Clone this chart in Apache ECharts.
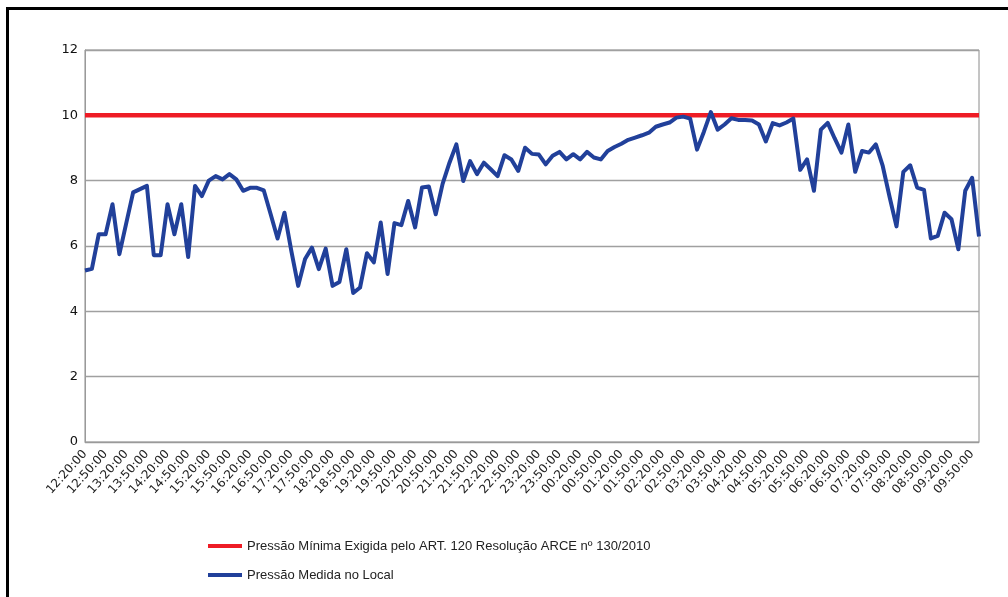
<!DOCTYPE html>
<html>
<head>
<meta charset="utf-8">
<script src="https://cdn.jsdelivr.net/npm/echarts@6/dist/echarts.min.js"></script>
<style>
html,body{margin:0;padding:0;background:#fff;}
#chart{width:1008px;height:597px;}
</style>
</head>
<body>
<div id="chart"></div>
<script>
// Time categories: every 10 minutes from 12:20:00 to 10:00:00
const startHour = 12, startMinute = 20, stepMinutes = 10, pointCount = 131;
const categories = [];
for (let k = 0; k < pointCount; k++) {
  const t = (startHour * 60 + startMinute + k * stepMinutes) % (24 * 60);
  const h = String(Math.floor(t / 60)).padStart(2, '0');
  const m = String(t % 60).padStart(2, '0');
  categories.push(h + ':' + m + ':00');
}

const minimumPressureValue = 10;

const measuredPressure = [
  5.25, 5.30, 6.36, 6.36, 7.28, 5.75, 6.70, 7.64, 7.74, 7.84,
  5.72, 5.72, 7.28, 6.36, 7.28, 5.66, 7.84, 7.53, 8.00, 8.14,
  8.04, 8.20, 8.04, 7.69, 7.78, 7.78, 7.70, 6.97, 6.23, 7.02,
  5.85, 4.78, 5.60, 5.95, 5.29, 5.92, 4.78, 4.90, 5.90, 4.56,
  4.73, 5.78, 5.50, 6.72, 5.14, 6.70, 6.64, 7.38, 6.57, 7.79,
  7.82, 6.97, 7.90, 8.55, 9.11, 7.99, 8.60, 8.20, 8.55, 8.35,
  8.14, 8.78, 8.65, 8.30, 9.01, 8.82, 8.80, 8.50, 8.76, 8.88,
  8.65, 8.81, 8.65, 8.88, 8.71, 8.65, 8.91, 9.03, 9.13, 9.25,
  9.32, 9.39, 9.47, 9.65, 9.72, 9.78, 9.93, 9.96, 9.90, 8.95,
  9.50, 10.10, 9.56, 9.72, 9.91, 9.86, 9.86, 9.84, 9.72, 9.20,
  9.76, 9.69, 9.78, 9.90, 8.33, 8.65, 7.69, 9.56, 9.77, 9.30,
  8.86, 9.72, 8.27, 8.91, 8.86, 9.11, 8.45, 7.50, 6.60, 8.27,
  8.47, 7.79, 7.72, 6.23, 6.31, 7.02, 6.82, 5.90, 7.69, 8.09,
  6.29
];

const minimumPressure = categories.map(() => minimumPressureValue);

const seriesNames = [
  'Pressão Mínima Exigida pelo ART. 120 Resolução ARCE nº 130/2010',
  'Pressão Medida no Local'
];

const chart = echarts.init(document.getElementById('chart'), null, {renderer: 'canvas'});
chart.setOption({
  animation: false,
  backgroundColor: '#ffffff',
  graphic: [{
    type: 'rect',
    shape: {x: 7.5, y: 8.5, width: 1010, height: 600},
    style: {fill: 'none', stroke: '#000', lineWidth: 3},
    silent: true
  }],
  grid: {
    left: 85, top: 50, width: 894, height: 392,
    show: true, borderColor: '#8a8a8a', borderWidth: 1, backgroundColor: 'transparent'
  },
  legend: {
    orient: 'vertical',
    left: 203, top: 533,
    itemWidth: 34, itemHeight: 4, itemGap: 13,
    icon: 'rect',
    data: seriesNames,
    textStyle: {fontFamily: 'Liberation Sans', fontSize: 13, color: '#222', lineHeight: 16}
  },
  xAxis: {
    type: 'category',
    data: categories,
    boundaryGap: false,
    axisLine: {show: true, lineStyle: {color: '#9a9a9a', width: 1}},
    axisTick: {show: false},
    axisLabel: {
      interval: 2,
      rotate: 48,
      margin: 10,
      fontFamily: 'DejaVu Sans',
      fontSize: 12,
      color: '#222'
    },
    splitLine: {show: false}
  },
  yAxis: {
    type: 'value',
    min: 0, max: 12, interval: 2,
    axisLine: {show: true, lineStyle: {color: '#9a9a9a', width: 1}},
    axisTick: {show: false},
    axisLabel: {fontFamily: 'DejaVu Sans', fontSize: 13, color: '#111', margin: 7},
    splitLine: {show: true, lineStyle: {color: '#a0a0a0', width: 1.3}}
  },
  series: [
    {
      name: seriesNames[0],
      type: 'line',
      data: minimumPressure,
      symbol: 'none',
      lineStyle: {color: '#ee1c25', width: 4.5},
      itemStyle: {color: '#ee1c25'},
      z: 2
    },
    {
      name: seriesNames[1],
      type: 'line',
      data: measuredPressure,
      symbol: 'none',
      lineStyle: {color: '#21409a', width: 4, join: 'round'},
      itemStyle: {color: '#21409a'},
      z: 3
    }
  ]
});
</script>
</body>
</html>
